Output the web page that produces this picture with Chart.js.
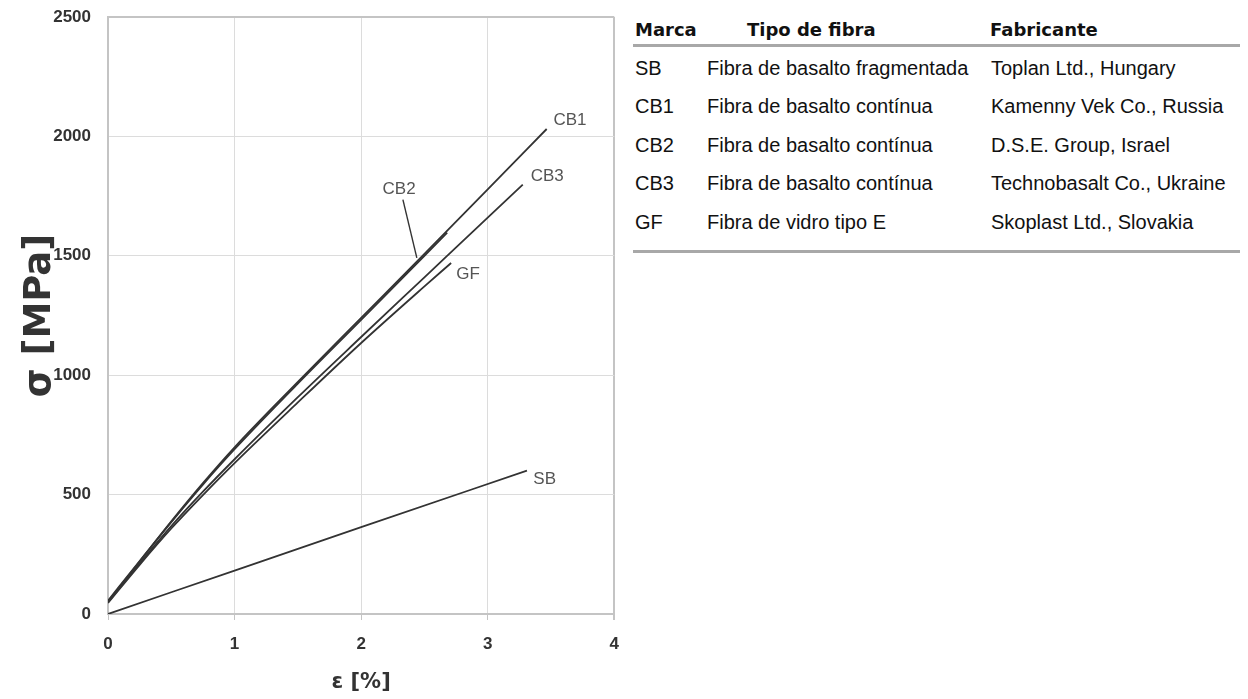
<!DOCTYPE html>
<html>
<head>
<meta charset="utf-8">
<script src="https://cdn.jsdelivr.net/npm/chart.js@4"></script>
<style>
  body { margin: 0; background: #fff; width: 1248px; height: 699px; overflow: hidden; position: relative; }
  #wrap { position: absolute; left: 0; top: 0; width: 633px; height: 699px; }
  #table { position: absolute; left: 0; top: 0; }
  .cell { position: absolute; white-space: nowrap; line-height: 24px; height: 24px; color: #111; }
  .head { font: bold 18px "DejaVu Sans", sans-serif; }
  .body { font: 20px "Liberation Sans", Arial, sans-serif; }
  .rule { position: absolute; left: 633px; width: 607px; height: 3px; background: #a8a8a8; }
</style>
</head>
<body>
<div id="wrap"><canvas id="stressChart" width="633" height="699"></canvas></div>
<div id="table"></div>

<script>
// ─────────────────────────────────────
// CURVE DATA  (strain %, stress MPa)
// ─────────────────────────────────────

const strainCB1 = [0, 0.25, 0.5, 0.75, 1, 1.5, 2, 2.5, 3, 3.466];
const stressCB1 = [52, 220, 388, 548, 698, 972, 1240, 1508, 1778, 2031];

const strainCB2 = [0, 0.25, 0.5, 0.75, 1, 1.5, 2, 2.5, 2.68];
const stressCB2 = [56, 222, 385, 542, 690, 965, 1232, 1500, 1597];

const strainCB3 = [0, 0.25, 0.5, 0.75, 1, 1.5, 2, 2.5, 3, 3.277];
const stressCB3 = [50, 212, 368, 512, 648, 908, 1160, 1410, 1660, 1798];

const strainGF = [0, 0.25, 0.5, 0.75, 1, 1.5, 2, 2.5, 2.711];
const stressGF = [46, 206, 358, 498, 632, 886, 1135, 1372, 1470];

const strainSB = [0, 1, 2, 3.31];
const stressSB = [0, 182, 364, 600];

// curve labels (placed in data coordinates)
const labelNames = ["CB1", "CB2", "CB3", "GF", "SB"];
const labelX = [3.65, 2.30, 3.47, 2.845, 3.45];
const labelY = [2067, 1777, 1831, 1421, 562];

// leader line from the CB2 label to its curve
const leaderX = [2.33, 2.44];
const leaderY = [1735, 1491];

// axis ticks
const xTicks = [0, 1, 2, 3, 4];
const yTicks = [0, 500, 1000, 1500, 2000, 2500];

// ─────────────────────────────────────
// TABLE DATA
// ─────────────────────────────────────

const tableHead = ["Marca", "Tipo de fibra", "Fabricante"];
const brands = ["SB", "CB1", "CB2", "CB3", "GF"];
const fibreTypes = [
    "Fibra de basalto fragmentada",
    "Fibra de basalto contínua",
    "Fibra de basalto contínua",
    "Fibra de basalto contínua",
    "Fibra de vidro tipo E"
];
const makers = [
    "Toplan Ltd., Hungary",
    "Kamenny Vek Co., Russia",
    "D.S.E. Group, Israel",
    "Technobasalt Co., Ukraine",
    "Skoplast Ltd., Slovakia"
];


function toPoints(xs, ys) {
    return xs.map((x, i) => ({ x: x, y: ys[i] }));
}

function curve(name, xs, ys) {
    return {
        label: name,
        data: toPoints(xs, ys),
        borderColor: "#333",
        borderWidth: 1.8,
        pointRadius: 0,
        tension: 0.3,
        cubicInterpolationMode: "monotone",
        fill: false
    };
}

// text next to each curve
const curveLabels = {
    id: "curveLabels",
    afterDatasetsDraw(chart) {
        const ctx = chart.ctx;
        const xs = chart.scales.x;
        const ys = chart.scales.y;
        ctx.save();
        ctx.font = "17px 'Liberation Sans', Arial, sans-serif";
        ctx.fillStyle = "#555";
        ctx.textAlign = "center";
        ctx.textBaseline = "middle";
        labelNames.forEach((name, i) => {
            ctx.fillText(name, xs.getPixelForValue(labelX[i]), ys.getPixelForValue(labelY[i]));
        });
        ctx.restore();
    }
};

const frameColor = "#c4c4c4";
const gridColor = "#dcdcdc";
const tickFont = { family: "'Liberation Sans', Arial, sans-serif", size: 17, weight: "bold" };


// ─────────────────────────────────────
// CHART
// ─────────────────────────────────────

new Chart(document.getElementById("stressChart"), {

    type: "line",

    data: {
        datasets: [
            curve("SB", strainSB, stressSB),
            curve("GF", strainGF, stressGF),
            curve("CB3", strainCB3, stressCB3),
            curve("CB2", strainCB2, stressCB2),
            curve("CB1", strainCB1, stressCB1),
            {
                label: "leader",
                data: toPoints(leaderX, leaderY),
                borderColor: "#333",
                borderWidth: 1.4,
                pointRadius: 0,
                tension: 0
            }
        ]
    },

    options: {
        responsive: false,
        animation: false,
        layout: {
            padding: { top: 17, right: 0, left: 0, bottom: 0 }
        },
        plugins: {
            legend: { display: false },
            tooltip: { enabled: false }
        },
        scales: {
            x: {
                type: "linear",
                min: 0,
                max: 4,
                afterBuildTicks: (scale) => {
                    scale.ticks = xTicks.map(v => ({ value: v }));
                },
                afterFit: (scale) => { scale.height = 85; },
                grid: {
                    color: (c) => (c.tick && c.tick.value === 4) ? frameColor : gridColor,
                    lineWidth: (c) => (c.tick && c.tick.value === 4) ? 2 : 1,
                    tickColor: frameColor,
                    tickLength: 6
                },
                border: { color: frameColor, width: 2 },
                ticks: {
                    padding: 14,
                    color: "#333",
                    font: tickFont,
                    callback: (v) => String(v)
                },
                title: {
                    display: true,
                    text: "ε [%]",
                    color: "#333",
                    padding: { top: 0, bottom: 4 },
                    font: { family: "'DejaVu Sans', sans-serif", size: 21, weight: "bold" }
                }
            },
            y: {
                type: "linear",
                min: 0,
                max: 2500,
                afterBuildTicks: (scale) => {
                    scale.ticks = yTicks.map(v => ({ value: v }));
                },
                afterFit: (scale) => { scale.width = 108; },
                grid: {
                    color: (c) => (c.tick && c.tick.value === 2500) ? frameColor : gridColor,
                    lineWidth: (c) => (c.tick && c.tick.value === 2500) ? 2 : 1,
                    // invisible tick marks keep the labels away from the axis
                    drawTicks: true,
                    tickLength: 17,
                    tickColor: "rgba(0,0,0,0)"
                },
                border: { color: frameColor, width: 2 },
                ticks: {
                    padding: 0,
                    color: "#333",
                    font: tickFont,
                    callback: (v) => String(v)
                },
                title: {
                    display: true,
                    text: "σ [MPa]",
                    color: "#333",
                    padding: { top: 18, bottom: 0 },
                    font: { family: "'DejaVu Sans', sans-serif", size: 37, weight: "bold" }
                }
            }
        }
    },

    plugins: [curveLabels]
});


// ─────────────────────────────────────
// RENDER TABLE
// ─────────────────────────────────────

const table = document.getElementById("table");
const colX = [635, 707, 991];
const headX = [635, 747, 990];
const headY = 31;
const rowY = [69, 107, 146, 184, 223];

function cell(text, x, yCenter, cls) {
    const d = document.createElement("div");
    d.className = "cell " + cls;
    d.textContent = text;
    d.style.left = x + "px";
    d.style.top = (yCenter - 12) + "px";
    table.appendChild(d);
}

tableHead.forEach((h, i) => cell(h, headX[i], headY, "head"));

brands.forEach((b, i) => {
    cell(b, colX[0], rowY[i], "body");
    cell(fibreTypes[i], colX[1], rowY[i], "body");
    cell(makers[i], colX[2], rowY[i], "body");
});

const topRule = document.createElement("div");
topRule.className = "rule";
topRule.style.top = "44px";
table.appendChild(topRule);

const bottomRule = document.createElement("div");
bottomRule.className = "rule";
bottomRule.style.top = "250px";
table.appendChild(bottomRule);
</script>
</body>
</html>
